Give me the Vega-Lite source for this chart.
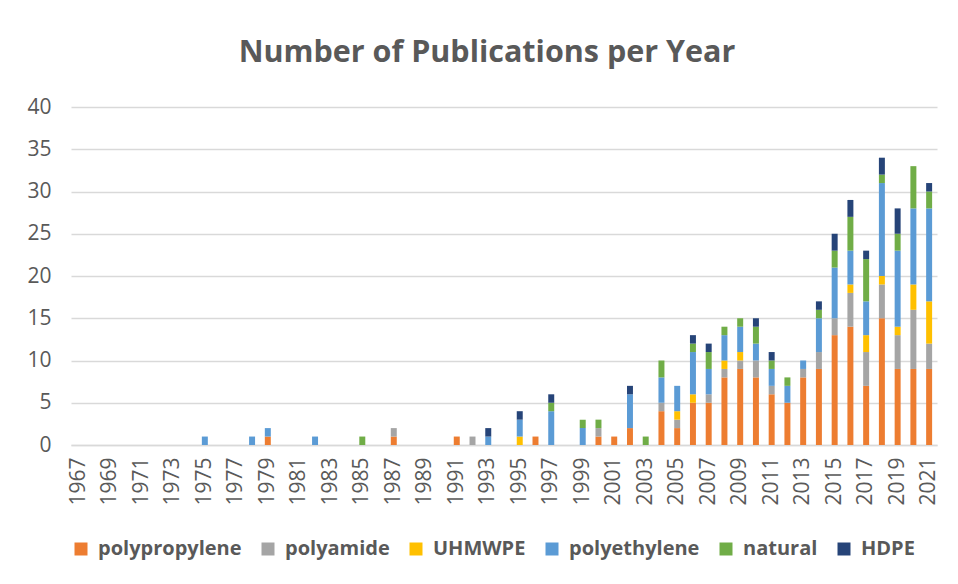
{
  "$schema": "https://vega.github.io/schema/vega-lite/v6.json",
  "autosize": {"type": "none"},
  "width": 866,
  "height": 338,
  "padding": {"left": 71, "top": 107, "right": 21, "bottom": 139},
  "background": "white",
  "title": {
    "text": "Number of Publications per Year",
    "font": "Open Sans",
    "fontSize": 30.5,
    "fontWeight": "bold",
    "color": "#595959",
    "anchor": "middle",
    "frame": "group",
    "dx": -17,
    "offset": 28
  },
  "data": {
    "values": [
      {"year": 1975, "type": "polyethylene", "n": 1},
      {"year": 1978, "type": "polyethylene", "n": 1},
      {"year": 1979, "type": "polypropylene", "n": 1},
      {"year": 1979, "type": "polyethylene", "n": 1},
      {"year": 1982, "type": "polyethylene", "n": 1},
      {"year": 1985, "type": "natural", "n": 1},
      {"year": 1987, "type": "polypropylene", "n": 1},
      {"year": 1987, "type": "polyamide", "n": 1},
      {"year": 1991, "type": "polypropylene", "n": 1},
      {"year": 1992, "type": "polyamide", "n": 1},
      {"year": 1993, "type": "polyethylene", "n": 1},
      {"year": 1993, "type": "HDPE", "n": 1},
      {"year": 1995, "type": "UHMWPE", "n": 1},
      {"year": 1995, "type": "polyethylene", "n": 2},
      {"year": 1995, "type": "HDPE", "n": 1},
      {"year": 1996, "type": "polypropylene", "n": 1},
      {"year": 1997, "type": "polyethylene", "n": 4},
      {"year": 1997, "type": "natural", "n": 1},
      {"year": 1997, "type": "HDPE", "n": 1},
      {"year": 1999, "type": "polyethylene", "n": 2},
      {"year": 1999, "type": "natural", "n": 1},
      {"year": 2000, "type": "polypropylene", "n": 1},
      {"year": 2000, "type": "polyamide", "n": 1},
      {"year": 2000, "type": "natural", "n": 1},
      {"year": 2001, "type": "polypropylene", "n": 1},
      {"year": 2002, "type": "polypropylene", "n": 2},
      {"year": 2002, "type": "polyethylene", "n": 4},
      {"year": 2002, "type": "HDPE", "n": 1},
      {"year": 2003, "type": "natural", "n": 1},
      {"year": 2004, "type": "polypropylene", "n": 4},
      {"year": 2004, "type": "polyamide", "n": 1},
      {"year": 2004, "type": "polyethylene", "n": 3},
      {"year": 2004, "type": "natural", "n": 2},
      {"year": 2005, "type": "polypropylene", "n": 2},
      {"year": 2005, "type": "polyamide", "n": 1},
      {"year": 2005, "type": "UHMWPE", "n": 1},
      {"year": 2005, "type": "polyethylene", "n": 3},
      {"year": 2006, "type": "polypropylene", "n": 5},
      {"year": 2006, "type": "UHMWPE", "n": 1},
      {"year": 2006, "type": "polyethylene", "n": 5},
      {"year": 2006, "type": "natural", "n": 1},
      {"year": 2006, "type": "HDPE", "n": 1},
      {"year": 2007, "type": "polypropylene", "n": 5},
      {"year": 2007, "type": "polyamide", "n": 1},
      {"year": 2007, "type": "polyethylene", "n": 3},
      {"year": 2007, "type": "natural", "n": 2},
      {"year": 2007, "type": "HDPE", "n": 1},
      {"year": 2008, "type": "polypropylene", "n": 8},
      {"year": 2008, "type": "polyamide", "n": 1},
      {"year": 2008, "type": "UHMWPE", "n": 1},
      {"year": 2008, "type": "polyethylene", "n": 3},
      {"year": 2008, "type": "natural", "n": 1},
      {"year": 2009, "type": "polypropylene", "n": 9},
      {"year": 2009, "type": "polyamide", "n": 1},
      {"year": 2009, "type": "UHMWPE", "n": 1},
      {"year": 2009, "type": "polyethylene", "n": 3},
      {"year": 2009, "type": "natural", "n": 1},
      {"year": 2010, "type": "polypropylene", "n": 8},
      {"year": 2010, "type": "polyamide", "n": 2},
      {"year": 2010, "type": "polyethylene", "n": 2},
      {"year": 2010, "type": "natural", "n": 2},
      {"year": 2010, "type": "HDPE", "n": 1},
      {"year": 2011, "type": "polypropylene", "n": 6},
      {"year": 2011, "type": "polyamide", "n": 1},
      {"year": 2011, "type": "polyethylene", "n": 2},
      {"year": 2011, "type": "natural", "n": 1},
      {"year": 2011, "type": "HDPE", "n": 1},
      {"year": 2012, "type": "polypropylene", "n": 5},
      {"year": 2012, "type": "polyethylene", "n": 2},
      {"year": 2012, "type": "natural", "n": 1},
      {"year": 2013, "type": "polypropylene", "n": 8},
      {"year": 2013, "type": "polyamide", "n": 1},
      {"year": 2013, "type": "polyethylene", "n": 1},
      {"year": 2014, "type": "polypropylene", "n": 9},
      {"year": 2014, "type": "polyamide", "n": 2},
      {"year": 2014, "type": "polyethylene", "n": 4},
      {"year": 2014, "type": "natural", "n": 1},
      {"year": 2014, "type": "HDPE", "n": 1},
      {"year": 2015, "type": "polypropylene", "n": 13},
      {"year": 2015, "type": "polyamide", "n": 2},
      {"year": 2015, "type": "polyethylene", "n": 6},
      {"year": 2015, "type": "natural", "n": 2},
      {"year": 2015, "type": "HDPE", "n": 2},
      {"year": 2016, "type": "polypropylene", "n": 14},
      {"year": 2016, "type": "polyamide", "n": 4},
      {"year": 2016, "type": "UHMWPE", "n": 1},
      {"year": 2016, "type": "polyethylene", "n": 4},
      {"year": 2016, "type": "natural", "n": 4},
      {"year": 2016, "type": "HDPE", "n": 2},
      {"year": 2017, "type": "polypropylene", "n": 7},
      {"year": 2017, "type": "polyamide", "n": 4},
      {"year": 2017, "type": "UHMWPE", "n": 2},
      {"year": 2017, "type": "polyethylene", "n": 4},
      {"year": 2017, "type": "natural", "n": 5},
      {"year": 2017, "type": "HDPE", "n": 1},
      {"year": 2018, "type": "polypropylene", "n": 15},
      {"year": 2018, "type": "polyamide", "n": 4},
      {"year": 2018, "type": "UHMWPE", "n": 1},
      {"year": 2018, "type": "polyethylene", "n": 11},
      {"year": 2018, "type": "natural", "n": 1},
      {"year": 2018, "type": "HDPE", "n": 2},
      {"year": 2019, "type": "polypropylene", "n": 9},
      {"year": 2019, "type": "polyamide", "n": 4},
      {"year": 2019, "type": "UHMWPE", "n": 1},
      {"year": 2019, "type": "polyethylene", "n": 9},
      {"year": 2019, "type": "natural", "n": 2},
      {"year": 2019, "type": "HDPE", "n": 3},
      {"year": 2020, "type": "polypropylene", "n": 9},
      {"year": 2020, "type": "polyamide", "n": 7},
      {"year": 2020, "type": "UHMWPE", "n": 3},
      {"year": 2020, "type": "polyethylene", "n": 9},
      {"year": 2020, "type": "natural", "n": 5},
      {"year": 2021, "type": "polypropylene", "n": 9},
      {"year": 2021, "type": "polyamide", "n": 3},
      {"year": 2021, "type": "UHMWPE", "n": 5},
      {"year": 2021, "type": "polyethylene", "n": 11},
      {"year": 2021, "type": "natural", "n": 2},
      {"year": 2021, "type": "HDPE", "n": 1}
    ]
  },
  "transform": [
    {"calculate": "indexof(['polypropylene','polyamide','UHMWPE','polyethylene','natural','HDPE'], datum.type)", "as": "stackRank"}
  ],
  "mark": {"type": "bar"},
  "encoding": {
    "x": {
      "field": "year",
      "type": "ordinal",
      "scale": {
        "domain": [1967,1968,1969,1970,1971,1972,1973,1974,1975,1976,1977,1978,1979,1980,1981,1982,1983,1984,1985,1986,1987,1988,1989,1990,1991,1992,1993,1994,1995,1996,1997,1998,1999,2000,2001,2002,2003,2004,2005,2006,2007,2008,2009,2010,2011,2012,2013,2014,2015,2016,2017,2018,2019,2020,2021],
        "paddingInner": 0.62,
        "paddingOuter": 0.31
      },
      "axis": {
        "title": null,
        "values": [1967,1969,1971,1973,1975,1977,1979,1981,1983,1985,1987,1989,1991,1993,1995,1997,1999,2001,2003,2005,2007,2009,2011,2013,2015,2017,2019,2021],
        "labelAngle": 270,
        "labelFont": "Open Sans",
        "labelFontSize": 21,
        "labelColor": "#595959",
        "labelPadding": 12,
        "ticks": false,
        "domainColor": "#D9D9D9",
        "domainWidth": 1.5
      }
    },
    "y": {
      "field": "n",
      "type": "quantitative",
      "stack": "zero",
      "scale": {"domain": [0, 40]},
      "axis": {
        "title": null,
        "values": [0,5,10,15,20,25,30,35,40],
        "domain": false,
        "ticks": false,
        "labelFont": "Open Sans",
        "labelFontSize": 21,
        "labelColor": "#595959",
        "labelPadding": 20,
        "gridColor": "#D9D9D9",
        "gridWidth": 1.5
      }
    },
    "color": {
      "field": "type",
      "type": "nominal",
      "sort": ["polypropylene", "polyamide", "UHMWPE", "polyethylene", "natural", "HDPE"],
      "scale": {
        "domain": ["polypropylene", "polyamide", "UHMWPE", "polyethylene", "natural", "HDPE"],
        "range": ["#ED7D31", "#A5A5A5", "#FFC000", "#5B9BD5", "#70AD47", "#264478"]
      },
      "legend": {
        "title": null,
        "orient": "bottom",
        "direction": "horizontal",
        "offset": 33,
        "symbolType": "square",
        "symbolSize": 169,
        "symbolStrokeWidth": 0,
        "labelFont": "Open Sans",
        "labelFontSize": 20,
        "labelFontWeight": "bold",
        "labelColor": "#595959",
        "labelOffset": 7,
        "columnPadding": 16
      }
    },
    "order": {"field": "stackRank", "type": "quantitative", "sort": "ascending"}
  },
  "config": {
    "view": {"stroke": null}
  }
}
